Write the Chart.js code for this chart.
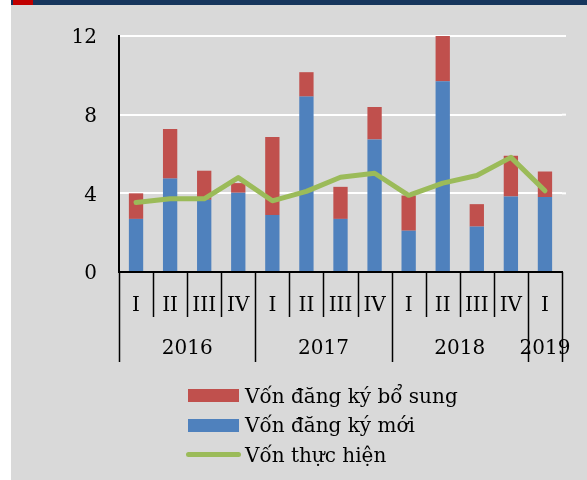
<!DOCTYPE html>
<html>
<head>
<meta charset="utf-8">
<script src="https://cdn.jsdelivr.net/npm/chart.js@4.4.1/dist/chart.umd.min.js"></script>
<style>
  html, body { margin: 0; padding: 0; background: #fff; }
  #wrap { position: relative; width: 587px; height: 480px; }
  #chart { display: block; }
  #legend { position: absolute; left: 186px; top: 381px; font: 20px "DejaVu Serif", serif; color: #000; }
  .item { display: flex; align-items: center; height: 29.5px; white-space: nowrap; }
  .box { width: 51px; height: 13px; margin-left: 2px; margin-right: 6px; }
  .line { width: 55px; height: 5px; border-radius: 3px; margin-right: 4px; }
</style>
</head>
<body>
<div id="wrap">
  <canvas id="chart" width="587" height="480"></canvas>
  <div id="legend"></div>
</div>
<script>
// Quarter labels and the year each group of quarters belongs to
const quarters = ["I", "II", "III", "IV", "I", "II", "III", "IV", "I", "II", "III", "IV", "I"];
const years = ["2016", "2017", "2018", "2019"];
const yearSpans = [4, 4, 4, 1];

// Values (billion USD)
const newCapital = [2.7, 4.75, 3.67, 4.03, 2.9, 8.92, 2.7, 6.74, 2.1, 9.7, 2.31, 3.84, 3.81];
const addedCapital = [1.3, 2.52, 1.48, 0.49, 3.96, 1.24, 1.63, 1.65, 1.79, 2.3, 1.14, 2.07, 1.3];
const disbursed = [3.53, 3.72, 3.72, 4.8, 3.62, 4.1, 4.82, 5.02, 3.9, 4.52, 4.91, 5.83, 4.13];

const yTicks = [0, 4, 8, 12];

const RED = "#c0504d";
const BLUE = "#4f81bd";
const GREEN = "#9bbb59";
const FONT = { family: "'DejaVu Serif', serif", size: 20 };

// Page background, top banner, year row and separators
const decor = {
  id: "decor",
  beforeDraw(chart) {
    const ctx = chart.ctx;
    ctx.save();
    ctx.fillStyle = "#ffffff";
    ctx.fillRect(0, 0, chart.width, chart.height);
    ctx.fillStyle = "#d9d9d9";
    ctx.fillRect(11, 0, chart.width - 11, chart.height);
    ctx.fillStyle = "#17365d";
    ctx.fillRect(11, 0, chart.width - 11, 5);
    ctx.fillStyle = "#c00000";
    ctx.fillRect(13, 0, 20, 5);
    ctx.restore();
  },
  beforeDatasetsDraw(chart) {
    // gridlines run a little past the last category in the original
    const { ctx, chartArea, scales } = chart;
    ctx.save();
    ctx.strokeStyle = "#ffffff";
    ctx.lineWidth = 2;
    yTicks.slice(1).forEach((v) => {
      const py = scales.y.getPixelForValue(v);
      ctx.beginPath();
      ctx.moveTo(chartArea.right, py);
      ctx.lineTo(chartArea.right + 4, py);
      ctx.stroke();
    });
    ctx.restore();
  },
  afterDraw(chart) {
    const ctx = chart.ctx;
    const x = chart.scales.x;
    const top = x.top;
    ctx.save();
    ctx.strokeStyle = "#000";
    ctx.lineWidth = 1.5;
    // boundaries that start a new year get a long line
    const starts = [0];
    yearSpans.forEach((s, i) => starts.push(starts[i] + s));
    for (let i = 0; i <= quarters.length; i++) {
      const px = Math.round(x.getPixelForValue(i - 0.5)) + 0.5;
      const long = starts.includes(i);
      ctx.beginPath();
      ctx.moveTo(px, top);
      ctx.lineTo(px, top + (long ? 90 : 45));
      ctx.stroke();
    }
    ctx.fillStyle = "#000";
    ctx.font = `${FONT.size}px ${FONT.family}`;
    ctx.textAlign = "center";
    ctx.textBaseline = "middle";
    years.forEach((y, i) => {
      const a = x.getPixelForValue(starts[i] - 0.5);
      const b = x.getPixelForValue(starts[i + 1] - 0.5);
      ctx.fillText(y, (a + b) / 2, top + 77);
    });
    ctx.restore();
  },
};

const ctx = document.getElementById("chart");
const chart = new Chart(ctx, {
  type: "bar",
  data: {
    labels: quarters,
    datasets: [
      {
        type: "line",
        label: "Vốn thực hiện",
        data: disbursed,
        borderColor: GREEN,
        backgroundColor: GREEN,
        borderWidth: 5,
        pointRadius: 0,
        tension: 0,
        borderCapStyle: "round",
        borderJoinStyle: "round",
        stack: "line",
        order: 0,
      },
      {
        label: "Vốn đăng ký mới",
        data: newCapital,
        backgroundColor: BLUE,
        stack: "reg",
        order: 1,
      },
      {
        label: "Vốn đăng ký bổ sung",
        data: addedCapital,
        backgroundColor: RED,
        stack: "reg",
        order: 1,
      },
    ],
  },
  options: {
    responsive: false,
    animation: false,
    layout: { padding: { top: 36, right: 25, left: 0, bottom: 0 } },
    datasets: { bar: { categoryPercentage: 1, barPercentage: 0.42 } },
    plugins: { legend: { display: false }, tooltip: { enabled: false } },
    scales: {
      x: {
        stacked: true,
        grid: { display: false },
        border: { display: true, color: "#000", width: 2 },
        ticks: { color: "#000", font: FONT, padding: 14, maxRotation: 0, autoSkip: false },
        afterFit: (s) => { s.height = 208; },
      },
      y: {
        stacked: true,
        min: 0,
        max: 12,
        afterBuildTicks: (s) => { s.ticks = yTicks.map((v) => ({ value: v })); },
        grid: { color: "#ffffff", lineWidth: 2, drawTicks: false },
        border: { display: true, color: "#000", width: 2 },
        ticks: { color: "#000", font: FONT, padding: 22, labelOffset: 2 },
        afterFit: (s) => { s.width = 119; },
      },
    },
  },
  plugins: [decor],
});

// Vertical legend below the chart, built from the datasets
const legend = document.getElementById("legend");
[2, 1, 0].forEach((i) => {
  const ds = chart.data.datasets[i];
  const row = document.createElement("div");
  row.className = "item";
  const mark = document.createElement("span");
  mark.className = ds.type === "line" ? "line" : "box";
  mark.style.background = ds.type === "line" ? ds.borderColor : ds.backgroundColor;
  const text = document.createElement("span");
  text.textContent = ds.label;
  row.appendChild(mark);
  row.appendChild(text);
  legend.appendChild(row);
});
</script>
</body>
</html>
